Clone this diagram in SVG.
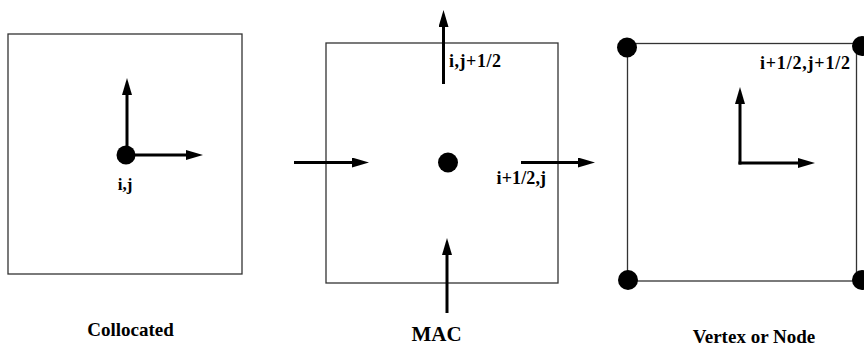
<svg xmlns="http://www.w3.org/2000/svg" width="864" height="347" viewBox="0 0 864 347">
<style>
.box{fill:none;stroke:#333;stroke-width:1.3}
.arr{stroke:#000;stroke-width:3;fill:none;marker-end:url(#head)}
.dot{fill:#000}
.lbl{font-family:"Liberation Serif","Times New Roman",serif;font-weight:bold;font-size:18px;fill:#000}
.cap{font-family:"Liberation Serif","Times New Roman",serif;font-weight:bold;font-size:19px;fill:#000;text-anchor:middle}
</style>
<defs>
<marker id="head" markerUnits="userSpaceOnUse" markerWidth="18" markerHeight="12" refX="0" refY="5" orient="auto">
<path d="M0,0 L17,5 L0,10 z" fill="#000"/>
</marker>
</defs>
<g id="collocated">
<rect class="box" x="8" y="34" width="234" height="240"/>
<circle class="dot" cx="126" cy="155" r="9.5"/>
<text class="lbl" x="125" y="190" text-anchor="middle" style="font-size:17px">i,j</text>
<text class="cap" x="130.5" y="336">Collocated</text>
</g>
<g id="mac">
<rect class="box" x="326" y="43" width="232" height="240"/>
<circle class="dot" cx="448" cy="162.5" r="10"/>
<text class="lbl" x="449" y="66.5" textLength="52" lengthAdjust="spacing">i,j+1/2</text>
<text class="lbl" x="496.5" y="184" textLength="49.5" lengthAdjust="spacing">i+1/2,j</text>
<text class="cap" x="436.5" y="341" style="font-size:21px">MAC</text>
</g>
<g id="vertex">
<rect class="box" x="627.5" y="43.5" width="229" height="237.5"/>
<circle class="dot" cx="627" cy="47.5" r="10"/>
<circle class="dot" cx="862" cy="46" r="10"/>
<circle class="dot" cx="628" cy="280" r="10"/>
<circle class="dot" cx="862" cy="280" r="10"/>
<text class="lbl" x="760" y="69" textLength="90" lengthAdjust="spacing">i+1/2,j+1/2</text>
<text class="cap" x="754" y="343">Vertex or Node</text>
</g>
<g id="connectors">
<line class="arr" x1="127" y1="155" x2="127" y2="95"/>
<line class="arr" x1="126" y1="155" x2="186" y2="155"/>
<line class="arr" x1="443.5" y1="84" x2="443.5" y2="27"/>
<line class="arr" x1="294" y1="162.5" x2="352" y2="162.5"/>
<line class="arr" x1="521" y1="162.5" x2="578" y2="162.5"/>
<line class="arr" x1="447" y1="313" x2="447" y2="255"/>
<line class="arr" x1="740" y1="164.5" x2="740" y2="104"/>
<line class="arr" x1="738.5" y1="163" x2="798" y2="163"/>
</g>
</svg>
